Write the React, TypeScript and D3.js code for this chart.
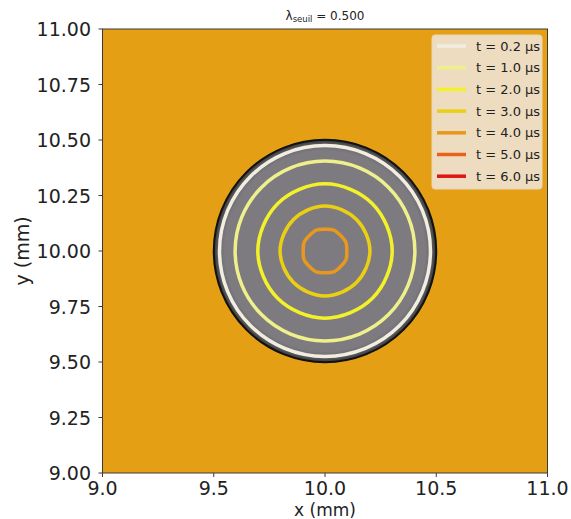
import React from "react";
import * as d3 from "d3";

const xTicks = [9.0, 9.5, 10.0, 10.5, 11.0];
const yTicks = [9.0, 9.25, 9.5, 9.75, 10.0, 10.25, 10.5, 10.75, 11.0];
const legendTimes = ["0.2", "1.0", "2.0", "3.0", "4.0", "5.0", "6.0"];
const legendColors = ["#f1ede0", "#eef08c", "#f3f22a", "#eacf12", "#e8981c", "#e8621c", "#e01414"];
const circleCenter = [10.0, 10.0];
const circleRadius = 0.5;
// contour radii (mm), 16 angular samples starting at angle 0
const contourRadii: number[][] = [
  [0.474, 0.474, 0.474, 0.474, 0.474, 0.474, 0.474, 0.474, 0.474, 0.474, 0.474, 0.474, 0.474, 0.474, 0.474, 0.474],
  [0.404, 0.404, 0.404, 0.404, 0.404, 0.404, 0.404, 0.404, 0.404, 0.404, 0.404, 0.404, 0.404, 0.404, 0.404, 0.404],
  [0.302, 0.300, 0.301, 0.300, 0.302, 0.300, 0.301, 0.300, 0.302, 0.300, 0.301, 0.300, 0.302, 0.300, 0.301, 0.300],
  [0.202, 0.200, 0.200, 0.200, 0.202, 0.200, 0.200, 0.200, 0.202, 0.200, 0.200, 0.200, 0.202, 0.200, 0.200, 0.200],
  [0.098, 0.102, 0.099, 0.102, 0.098, 0.102, 0.099, 0.102, 0.098, 0.102, 0.099, 0.102, 0.098, 0.102, 0.099, 0.102],
];

const W = 571, H = 519;
const L = 102.5, R = 547.5, T = 29, B = 473;
const font = "DejaVu Sans, sans-serif";

export default function App() {
  const x = d3.scaleLinear().domain([9, 11]).range([L, R]);
  const y = d3.scaleLinear().domain([9, 11]).range([B, T]);
  const pxPerMm = x(1) - x(0);
  const cx = x(circleCenter[0]);
  const cy = y(circleCenter[1]);

  const radial = d3
    .lineRadial<number>()
    .angle((_, i, arr) => (i / (arr as number[]).length) * 2 * Math.PI)
    .radius((d) => d * pxPerMm)
    .curve(d3.curveCatmullRomClosed.alpha(0.5));

  const legendX = 432, legendY = 35, legendW = 110, legendH = 154;

  return (
    <svg width={W} height={H} style={{ position: "absolute", left: 0, top: 0 }} fontFamily={font}>
      <defs>
        <radialGradient id="disk" cx="50%" cy="50%" r="50%">
          <stop offset="0%" stopColor="#7e7b80" />
          <stop offset="90%" stopColor="#7e7b80" />
          <stop offset="95%" stopColor="#6c6a6d" />
          <stop offset="100%" stopColor="#333333" />
        </radialGradient>
        <clipPath id="plotclip">
          <rect x={L} y={T} width={R - L} height={B - T} />
        </clipPath>
      </defs>
      <rect x={0} y={0} width={W} height={H} fill="#ffffff" />
      <g clipPath="url(#plotclip)">
        <rect x={L} y={T} width={R - L} height={B - T} fill="#e49f14" />
        <circle cx={cx} cy={cy} r={circleRadius * pxPerMm} fill="url(#disk)" />
        {contourRadii.map((radii, i) => (
          <path
            key={i}
            d={radial(radii) || ""}
            transform={`translate(${cx},${cy})`}
            fill="none"
            stroke={legendColors[i]}
            strokeWidth={3.5}
          />
        ))}
        <circle cx={cx} cy={cy} r={circleRadius * pxPerMm} fill="none" stroke="#111" strokeWidth={2} />
      </g>
      {/* spines */}
      <rect x={L} y={T} width={R - L} height={B - T} fill="none" stroke="#3a3a3a" strokeWidth={1} />
      {/* x ticks */}
      {xTicks.map((t) => (
        <g key={"x" + t}>
          <line x1={x(t)} x2={x(t)} y1={B} y2={B + 4} stroke="#3a3a3a" />
          <text x={x(t)} y={495} textAnchor="middle" fontSize={19} fill="#222">
            {d3.format(".1f")(t)}
          </text>
        </g>
      ))}
      {yTicks.map((t) => (
        <g key={"y" + t}>
          <line x1={L - 4} x2={L} y1={y(t)} y2={y(t)} stroke="#3a3a3a" />
          <text x={91} y={y(t) + 7} textAnchor="end" fontSize={19} fill="#222">
            {d3.format(".2f")(t)}
          </text>
        </g>
      ))}
      <text x={(L + R) / 2} y={515.5} textAnchor="middle" fontSize={17} fill="#222">
        x (mm)
      </text>
      <text transform={`translate(29,${(T + B) / 2}) rotate(-90)`} textAnchor="middle" fontSize={19} fill="#222">
        y (mm)
      </text>
      <text x={(L + R) / 2} y={20} textAnchor="middle" fontSize={12} fill="#222">
        λ<tspan fontSize={8.5} dy={2}>seuil</tspan>
        <tspan dy={-2}> = 0.500</tspan>
      </text>
      {/* legend */}
      <rect x={legendX} y={legendY} width={legendW} height={legendH} rx={3} fill="#eedcc0" stroke="#e9d6b8" />
      {legendTimes.map((t, i) => {
        const ly = 46 + i * 21.7;
        return (
          <g key={"l" + t}>
            <line x1={437} x2={466} y1={ly} y2={ly} stroke={legendColors[i]} strokeWidth={3.5} />
            <text x={476} y={ly + 4.5} fontSize={13} fill="#222">
              {`t = ${t} μs`}
            </text>
          </g>
        );
      })}
    </svg>
  );
}
